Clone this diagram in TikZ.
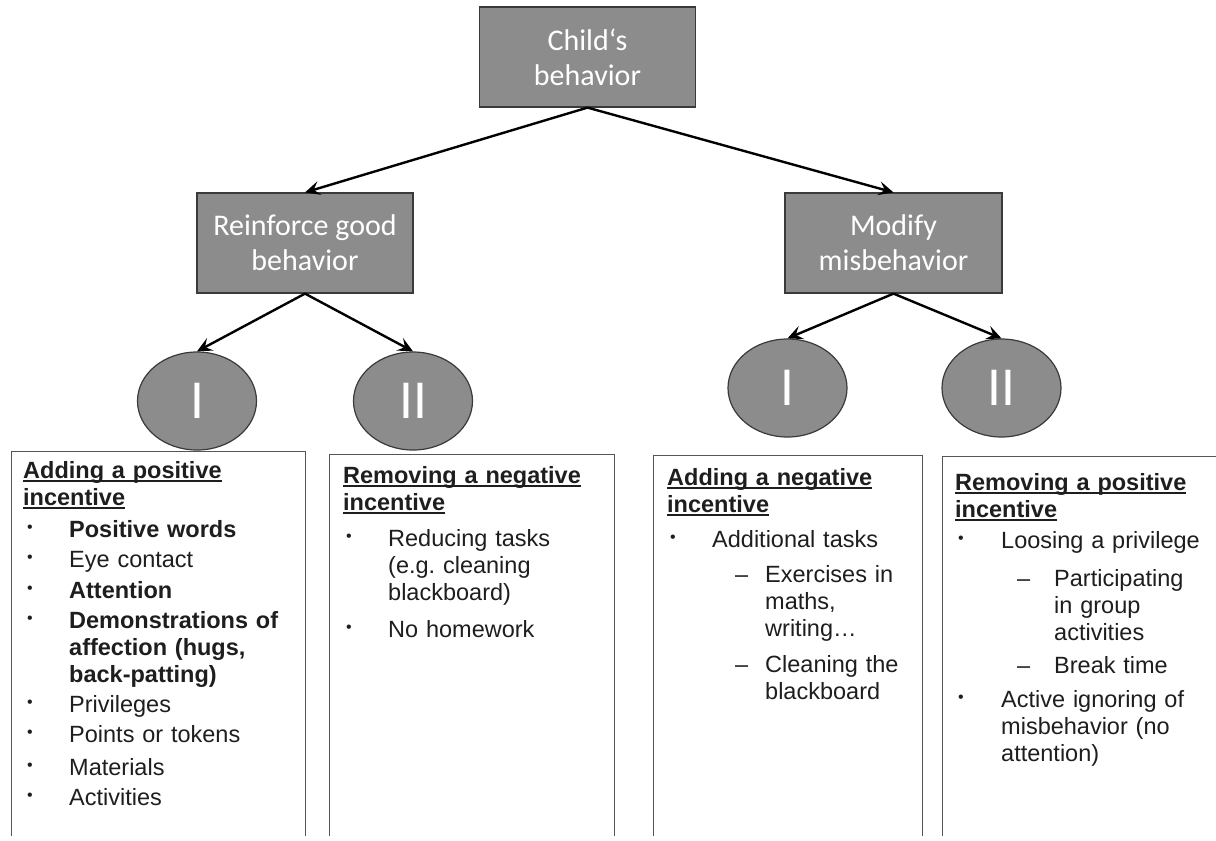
\documentclass[tikz,border=0pt]{standalone}
\usepackage{fontspec}
\setmainfont{Liberation Sans}
\newfontfamily\calfont{Carlito}
\usetikzlibrary{shapes.geometric,arrows.meta}
\definecolor{boxgray}{HTML}{8C8C8C}
\definecolor{edgegray}{HTML}{3A3A3A}
\definecolor{txt}{HTML}{1E1E1E}
\definecolor{framecol}{HTML}{555555}
\newcommand\ulhead[1]{\leavevmode\setbox0\hbox{#1}\rlap{\rule[-3.5pt]{\wd0}{1.6pt}}\box0}
\begin{document}
\begin{tikzpicture}[x=1pt,y=-1pt,
  graybox/.style={draw=edgegray, line width=1.2pt, fill=boxgray, rectangle, minimum width=216pt, minimum height=100pt, inner sep=0pt, align=center, text=white, font=\calfont\fontsize{30}{35}\selectfont},
  grayell/.style={draw=edgegray, line width=1.2pt, fill=boxgray, ellipse, minimum width=119pt, minimum height=98pt, inner sep=0pt, text=white, font=\calfont\fontsize{55}{55}\selectfont},
  listbox/.style={draw=framecol, line width=1.4pt, fill=white, rectangle, anchor=north west, inner sep=0pt, minimum height=500pt},
  head/.style={anchor=base west, inner sep=0pt, text width=300pt, align=left, font=\bfseries\fontsize{23.5}{27}\selectfont, text=txt},
  itemtext/.style={anchor=base west, inner sep=0pt, text width=300pt, align=left, font=\fontsize{23.5}{27}\selectfont, text=txt},
  bolditem/.style={itemtext, font=\bfseries\fontsize{23.5}{27}\selectfont},
  bul/.style={anchor=base west, inner sep=0pt, font=\fontsize{16}{16}\selectfont, text=txt},
  dashmark/.style={anchor=base west, inner sep=0pt, font=\fontsize{23.5}{27}\selectfont, text=txt},
  arr/.style={-{Stealth[length=15pt,width=14pt,inset=6pt]}, line width=2.4pt, black},
]
\useasboundingbox (0,0) rectangle (1216,841);

% list boxes (cut at the bottom and right like the reference)
\begin{scope}
\clip (0,0) rectangle (1216,835);
\node[listbox, minimum width=294pt] (b1) at (11,451) {};
\node[listbox, minimum width=285pt] (b2) at (329,454) {};
\node[listbox, minimum width=269pt] (b3) at (653,455) {};
\node[listbox, minimum width=400pt] (b4) at (942,456) {};
\end{scope}

% gray boxes
\node[graybox] (top) at (587.5,57) {Child‘s\\behavior};
\node[graybox] (rein) at (305,243) {Reinforce good\\behavior};
\node[graybox, minimum width=217pt] (modi) at (893.5,243) {Modify\\misbehavior};

% ellipses
\node[grayell] (e1) at (197,401) {\raisebox{-3pt}{I}};
\node[grayell] (e2) at (413,401) {\raisebox{-3pt}{II}};
\node[grayell] (e3) at (787.5,388) {\raisebox{-3pt}{I}};
\node[grayell] (e4) at (1001.5,388) {\raisebox{-3pt}{II}};

% arrows
\draw[arr] (top.south) -- (rein.north);
\draw[arr] (top.south) -- (modi.north);
\draw[arr] (rein.south) -- (e1.north);
\draw[arr] (rein.south) -- (e2.north);
\draw[arr] (modi.south) -- (e3.north);
\draw[arr] (modi.south) -- (e4.north);

% box 1
\node[head] (h1) at (23,478) {\ulhead{Adding a positive}\\\ulhead{incentive}};
\node[bul] (b1a) at (27,534.5) {\raisebox{2.5pt}{•}};
\node[bolditem] (t1a) at (69,537) {Positive words};
\node[bul] (b1b) at (27,564.5) {\raisebox{2.5pt}{•}};
\node[itemtext] (t1b) at (69,567) {Eye contact};
\node[bul] (b1c) at (27,595.5) {\raisebox{2.5pt}{•}};
\node[bolditem] (t1c) at (69,598) {Attention};
\node[bul] (b1d) at (27,625.5) {\raisebox{2.5pt}{•}};
\node[bolditem] (t1d) at (69,628) {Demonstrations of\\affection (hugs,\\back-patting)};
\node[bul] (b1e) at (27,709.5) {\raisebox{2.5pt}{•}};
\node[itemtext] (t1e) at (69,712) {Privileges};
\node[bul] (b1f) at (27,739.5) {\raisebox{2.5pt}{•}};
\node[itemtext] (t1f) at (69,742) {Points or tokens};
\node[bul] (b1g) at (27,772.5) {\raisebox{2.5pt}{•}};
\node[itemtext] (t1g) at (69,775) {Materials};
\node[bul] (b1h) at (27,802.5) {\raisebox{2.5pt}{•}};
\node[itemtext] (t1h) at (69,805) {Activities};

% box 2
\node[head] (h2) at (343,483) {\ulhead{Removing a negative}\\\ulhead{incentive}};
\node[bul] (b2a) at (346,543.5) {\raisebox{2.5pt}{•}};
\node[itemtext] (t2a) at (388,546) {Reducing tasks\\(e.g.\ cleaning\\blackboard)};
\node[bul] (b2b) at (346,634.5) {\raisebox{2.5pt}{•}};
\node[itemtext] (t2b) at (388,637) {No homework};

% box 3
\node[head] (h3) at (667,485) {\ulhead{Adding a negative}\\\ulhead{incentive}};
\node[bul] (b3a) at (670,544.5) {\raisebox{2.5pt}{•}};
\node[itemtext] (t3a) at (712,547) {Additional tasks};
\node[dashmark] (d3a) at (735,582) {–};
\node[itemtext] (t3b) at (765,582) {Exercises in\\maths,\\writing…};
\node[dashmark] (d3b) at (735,672) {–};
\node[itemtext] (t3c) at (765,672) {Cleaning the\\blackboard};

% box 4
\node[head] (h4) at (955,490) {\ulhead{Removing a positive}\\\ulhead{incentive}};
\node[bul] (b4a) at (958,545.5) {\raisebox{2.5pt}{•}};
\node[itemtext] (t4a) at (1001,548) {Loosing a privilege};
\node[dashmark] (d4a) at (1017,586) {–};
\node[itemtext] (t4b) at (1054,586) {Participating\\in group\\activities};
\node[dashmark] (d4b) at (1017,673) {–};
\node[itemtext] (t4c) at (1054,673) {Break time};
\node[bul] (b4b) at (958,704.5) {\raisebox{2.5pt}{•}};
\node[itemtext] (t4d) at (1001,707) {Active ignoring of\\misbehavior (no\\attention)};
\end{tikzpicture}
\end{document}
